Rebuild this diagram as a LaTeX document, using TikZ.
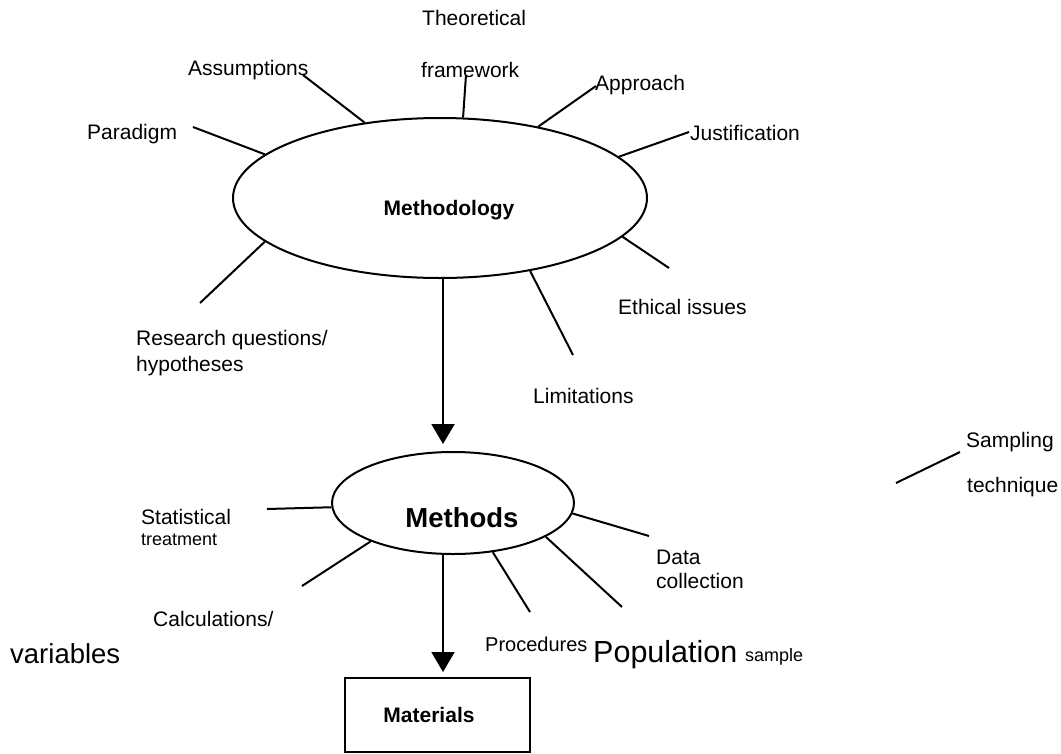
\documentclass[tikz,border=0pt]{standalone}
\usepackage{fontspec}
\setmainfont{Liberation Sans}
\usetikzlibrary{shapes.geometric,arrows.meta}
\begin{document}
\begin{tikzpicture}[x=1pt,y=-1pt,
  lbl/.style={anchor=base west,inner sep=0pt,font=\fontsize{21}{25}\selectfont},
  spoke/.style={line width=2pt},
  arr/.style={line width=2pt,-{Triangle[width=23pt,length=20pt]}},
  oval/.style={draw,ellipse,line width=2pt,inner sep=0pt,text depth=0pt},
]
\useasboundingbox (0,0) rectangle (1061,753);

% Methodology
\node[oval,minimum width=414pt,minimum height=160pt,text height=34pt,
      font=\bfseries\fontsize{21}{25}\selectfont] (m1) at (440,198) {\hspace*{18pt}Methodology};

\coordinate (pPar) at (193,127);
\coordinate (pAss) at (303,75);
\coordinate (pThe) at (466,75);
\coordinate (pApp) at (596,86);
\coordinate (pJus) at (689,132);
\coordinate (pEth) at (669,268);
\coordinate (pLim) at (573,355);
\coordinate (pRes) at (200,303);
\draw[spoke] (m1.166) -- (pPar);
\draw[spoke] (m1.135.4) -- (pAss);
\draw[spoke] (m1.74.8) -- (pThe);
\draw[spoke] (m1.36.8) -- (pApp);
\draw[spoke] (m1.13) -- (pJus);
\draw[spoke] (m1.-12.6) -- (pEth);
\draw[spoke] (m1.-39.8) -- (pLim);
\draw[spoke] (m1.194.4) -- (pRes);

\node[lbl] (tPar) at (87,139) {Paradigm};
\node[lbl] (tAss) at (188,75) {Assumptions};
\node[lbl] (tThe1) at (422,25) {Theoretical};
\node[lbl] (tThe2) at (421,77) {framework};
\node[lbl] (tApp) at (595,90) {Approach};
\node[lbl] (tJus) at (690,140) {Justification};
\node[lbl] (tEth) at (618,314) {Ethical issues};
\node[lbl] (tLim) at (533,403) {Limitations};
\node[lbl] (tRes1) at (136,345) {Research questions/};
\node[lbl] (tRes2) at (136,371) {hypotheses};

% Methods
\node[oval,minimum width=242pt,minimum height=102pt,text height=48pt,
      font=\bfseries\fontsize{27.5}{32}\selectfont] (m2) at (453,503) {\hspace*{18pt}Methods};

\coordinate (qSta) at (267,509);
\coordinate (qCal) at (302,586);
\coordinate (qPro) at (530,612);
\coordinate (qPop) at (622,607);
\coordinate (qDat) at (649,536);
\draw[spoke] (m2.182.8) -- (qSta);
\draw[spoke] (m2.205.7) -- (qCal);
\draw[spoke] (m2.-51.3) -- (qPro);
\draw[spoke] (m2.-20.8) -- (qPop);
\draw[spoke] (m2.-5.8) -- (qDat);

\node[lbl] (tSta1) at (141,524) {Statistical};
\node[lbl,font=\fontsize{18}{22}\selectfont] (tSta2) at (141,545) {treatment};
\node[lbl] (tDat1) at (656,564) {Data};
\node[lbl] (tDat2) at (656,588) {collection};
\node[lbl] (tCal) at (153,626) {Calculations/};
\node[lbl,font=\fontsize{27.5}{32}\selectfont] (tVar) at (10,663) {variables};
\node[lbl,font=\fontsize{20}{24}\selectfont] (tPro) at (485,651) {Procedures};
\node[lbl,font=\fontsize{30.5}{36}\selectfont] (tPop) at (593,662) {Population};
\node[lbl,font=\fontsize{18}{22}\selectfont] (tSam) at (745,661) {sample};

% Sampling technique
\coordinate (sA) at (896,483);
\coordinate (sB) at (960,452);
\draw[spoke] (sA) -- (sB);
\node[lbl] (tSmp1) at (966,447) {Sampling};
\node[lbl] (tSmp2) at (967,492) {technique};

% Materials
\node[draw,line width=2pt,minimum width=185pt,minimum height=74pt,inner sep=0pt,
      text height=14pt,text depth=0pt,
      font=\bfseries\fontsize{21}{25}\selectfont] (mat) at (437.5,715) {\hspace*{-17pt}Materials};

% arrows
\draw[arr] ([xshift=3pt]m1.south) -- ([xshift=-10pt,yshift=7pt]m2.north);
\draw[arr] ([xshift=-10pt]m2.south) -- ([xshift=5.5pt,yshift=5pt]mat.north);
\end{tikzpicture}
\end{document}
